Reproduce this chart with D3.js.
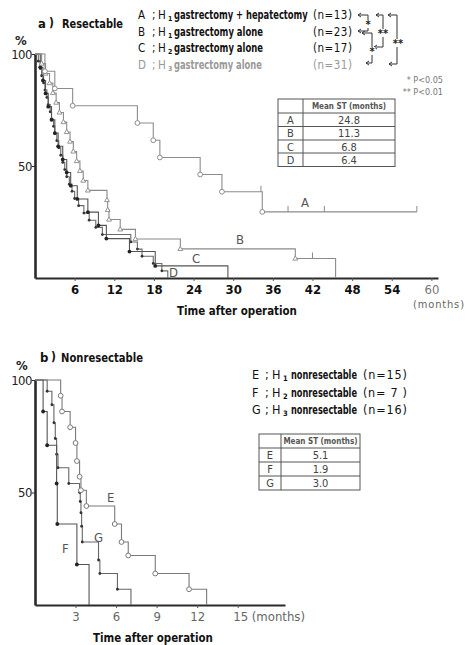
<!DOCTYPE html>
<html><head><meta charset="utf-8">
<script src="https://cdn.jsdelivr.net/npm/d3@7"></script>
<style>
body{margin:0;background:#fff;}
svg{display:block;}
text{font-family:"DejaVu Sans Condensed","DejaVu Sans",sans-serif;}
</style></head><body>
<svg id="c" width="466" height="645"></svg>
<script>
// ---------- data ----------
const topTicks=[6,12,18,24,30,36,42,48,54,60];
const botTicks=[3,6,9,12,15];
const yTicks=[50,100];
// panel a (months, % surviving)
const curveA=[[0,100],[1.5,92.3],[3,84.6],[5.7,76.9],[15.5,69.2],[17.9,61.5],[18.9,53.8],[25,46.2],[28.3,38.5],[34.4,29.5],[57.8,29.5]];
const censorA=[[34.2,38.5],[38.3,29.5],[43.8,29.5],[57.8,29.5]];
const curveB=[[0,100],[1,95.7],[1.6,91.3],[2.2,87],[2.7,82.6],[3.2,78.3],[3.7,73.9],[4.3,69.6],[4.8,65.2],[5.3,60.9],[5.8,56.5],[6.3,52.2],[6.8,47.8],[7.3,43.5],[8,39.1],[10.9,34.8],[11.0,30.4],[11.2,26.1],[12.9,21.7],[15.2,17.4],[22,13],[39.4,8.7],[45.5,0]];
const censorB=[[42,8.7]];
const curveC=[[0,100],[0.8,94.1],[1.2,88.2],[1.6,82.4],[2,76.5],[2.5,70.6],[3,64.7],[3.5,58.8],[4.2,52.9],[4.8,47.1],[5.4,41.2],[6.4,35.3],[8,29.4],[9.6,23.5],[10.8,17.6],[14.3,11.8],[18.2,5.4],[29.2,0]];
const curveD=[[0,100],[0.5,96.8],[0.8,93.5],[1.0,90.3],[1.3,87.1],[1.5,83.9],[1.8,80.6],[2.0,77.4],[2.3,74.2],[2.5,71],[2.8,67.7],[3.0,64.5],[3.3,61.3],[3.6,58.1],[3.9,54.8],[4.2,51.6],[4.5,48.4],[4.8,45.2],[5.2,41.9],[5.6,38.7],[6.0,35.5],[6.6,32.3],[7.4,29],[8.2,25.8],[9.2,22.6],[10.2,19.4],[14.5,16.1],[15.5,12.9],[16.2,9.7],[17.9,6.5],[19.2,3.2],[20.1,0]];
// panel b
const curveE=[[0,100],[1.9,93],[2.0,86],[2.6,79],[3.0,72],[3.1,64],[3.3,57],[3.4,51],[3.8,44],[5.9,36],[6.4,28],[6.9,22],[8.9,14],[11.4,7],[12.7,0]];
const curveF=[[0,100],[0.6,86],[0.9,71],[1.6,54],[1.65,36],[3.1,18],[4.0,0]];
const curveG=[[0,100],[0.9,95],[1.25,89],[1.4,81],[1.5,74],[1.6,67],[1.7,61],[2.5,54],[3.3,50],[3.35,46],[3.4,41],[3.45,35],[3.5,28],[4.7,20],[4.8,14],[6.1,7],[7.1,0]];
const legendA=[{k:"A",t:"gastrectomy + hepatectomy",h:"1",n:"(n=13)"},{k:"B",t:"gastrectomy alone",h:"1",n:"(n=23)"},{k:"C",t:"gastrectomy alone",h:"2",n:"(n=17)"},{k:"D",t:"gastrectomy alone",h:"3",n:"(n=31)"}];
const legendB=[{k:"E",t:"nonresectable",h:"1",n:"(n=15)"},{k:"F",t:"nonresectable",h:"2",n:"(n= 7 )"},{k:"G",t:"nonresectable",h:"3",n:"(n=16)"}];
const tableA=[["A","24.8"],["B","11.3"],["C","6.8"],["D","6.4"]];
const tableB=[["E","5.1"],["F","1.9"],["G","3.0"]];

// ---------- drawing ----------
const svg=d3.select("#c");
const axisCol="#2a2a2a";

function panel(cfg){
  const x=d3.scaleLinear().domain(cfg.xdom).range(cfg.xr);
  const y=d3.scaleLinear().domain([0,100]).range(cfg.yr);
  const g=svg.append("g");
  const xa=g.append("g").attr("transform",`translate(0,${cfg.yr[0]})`)
    .call(d3.axisBottom(x).tickValues(cfg.ticks).tickSize(3).tickSizeOuter(0).tickFormat(d3.format("d")));
  xa.select(".domain").attr("stroke",axisCol).attr("stroke-width",2.2);
  xa.selectAll(".tick line").attr("stroke","#555");
  xa.selectAll(".tick text").attr("font-size",cfg.tfs).attr("font-weight","bold").attr("fill","#111").attr("dy",cfg.tdy);
  const ya=g.append("g").attr("transform",`translate(${cfg.xr[0]},0)`)
    .call(d3.axisLeft(y).tickValues(yTicks).tickSize(3).tickSizeOuter(0));
  ya.select(".domain").attr("stroke",axisCol).attr("stroke-width",2.6);
  ya.selectAll(".tick line").attr("stroke",axisCol);
  ya.selectAll(".tick text").attr("font-size",13).attr("fill","#222").attr("x",-3).attr("letter-spacing",-0.5);
  const line=d3.line().x(d=>x(d[0])).y(d=>y(d[1])).curve(d3.curveStepAfter);
  cfg.curves.forEach(c=>{
    g.append("path").attr("d",line(c.data)).attr("fill","none").attr("stroke",c.col).attr("stroke-width",1.1);
    const pts=c.data.slice(1,-1);
    const mg=g.append("g");
    pts.forEach(p=>{
      const px=x(p[0]),py=y(p[1]);
      if(c.m==="o") mg.append("circle").attr("cx",px).attr("cy",py).attr("r",2.4).attr("fill","#fff").attr("stroke",c.col).attr("stroke-width",1);
      else if(c.m==="t") mg.append("path").attr("d",`M${px},${py-2.6}L${px+2.4},${py+1.6}L${px-2.4},${py+1.6}Z`).attr("fill","#fff").attr("stroke",c.col).attr("stroke-width",0.9);
      else if(c.m==="d") mg.append("circle").attr("cx",px).attr("cy",py).attr("r",1.9).attr("fill",c.mc||c.col);
      else mg.append("circle").attr("cx",px).attr("cy",py).attr("r",1.4).attr("fill",c.mc||c.col);
    });
    (c.cens||[]).forEach(p=>{
      g.append("line").attr("x1",x(p[0])).attr("x2",x(p[0])).attr("y1",y(p[1])).attr("y2",y(p[1])-6).attr("stroke",c.col).attr("stroke-width",1);
    });
  });
  return {x,y,g,xa};
}

const pa=panel({xdom:[0,61],xr:[35,438],yr:[278,54],ticks:topTicks,tfs:13,tdy:"0.75em",
  curves:[
    {data:curveD,col:"#6a6a6a",m:"s",mc:"#333"},
    {data:curveC,col:"#555",m:"d",mc:"#222"},
    {data:curveB,col:"#8a8a8a",m:"t",cens:censorB},
    {data:curveA,col:"#8c8c8c",m:"o",cens:censorA}
  ]});
pa.xa.selectAll(".tick text").filter(d=>d===60).attr("fill","#777").attr("font-weight","normal");

const pb=panel({xdom:[0,18.5],xr:[35,285],yr:[605,380],ticks:botTicks,tfs:13,tdy:"0.75em",
  curves:[
    {data:curveG,col:"#666",m:"s",mc:"#333"},
    {data:curveF,col:"#555",m:"d",mc:"#222"},
    {data:curveE,col:"#7a7a7a",m:"o"}
  ]});
pb.xa.selectAll(".tick text").attr("fill","#666").attr("font-weight","normal");
pb.xa.selectAll(".tick text").filter(d=>d===15).text("15 (months)").attr("text-anchor","start").attr("dx",-5);

function txt(x,y,s,o={}){
  return svg.append("text").attr("x",x).attr("y",y).text(s)
    .attr("font-size",o.fs||12).attr("font-weight",o.fw||"bold").attr("fill",o.fill||"#111")
    .attr("text-anchor",o.anchor||"start");
}
// fit text into width w: squeeze horizontally with a transform if too wide, stretch spacing if narrower
function fit(sel,w){
  const n=sel.node();const len=n.getComputedTextLength();
  if(len>w){
    const x=+sel.attr("x"),y=+sel.attr("y");
    sel.attr("x",0).attr("y",0).attr("transform",`translate(${x},${y}) scale(${(w/len).toFixed(4)},1)`);
  } else sel.attr("textLength",w).attr("lengthAdjust","spacing");
  return sel;
}
txt(38,28,"a",{fs:13});txt(49,27,")",{fs:12});
fit(txt(62,28,"Resectable",{fs:13}),61);
txt(15,45,"%",{fs:13,fill:"#222"});
txt(40,362,"b",{fs:13});txt(51,361,")",{fs:12});
fit(txt(61,362,"Nonresectable",{fs:13}),82);
txt(16,370,"%",{fs:13,fill:"#222"});
fit(txt(177,315,"Time after operation",{fs:13}),120);
fit(txt(413,308,"(months)",{fs:11,fw:"normal",fill:"#666"}),51);
fit(txt(93,642,"Time after operation",{fs:13}),120);

// curve letters
txt(301,207,"A",{fs:13,fw:"normal",fill:"#555"});
txt(236,244,"B",{fs:13,fw:"normal",fill:"#555"});
txt(192,263,"C",{fs:13,fw:"normal",fill:"#555"});
txt(169,277,"D",{fs:13,fw:"normal",fill:"#555"});
txt(107,502,"E",{fs:13,fw:"normal",fill:"#555"});
txt(94,542,"G",{fs:13,fw:"normal",fill:"#555"});
txt(62,553,"F",{fs:13,fw:"normal",fill:"#555"});

// legends: separate pieces
function legend(rows,ys,pos,fs,cols){
  rows.forEach((r,i)=>{
    const y=ys[i],c=cols[i];
    txt(pos.k,y,r.k,{fs:fs,fw:"normal",fill:c});
    txt(pos.semi,y,";",{fs:fs,fw:"normal",fill:c});
    txt(pos.h,y,"H",{fs:fs,fw:"normal",fill:c});
    txt(pos.sub,y+2,r.h,{fs:fs*0.6,fw:"bold",fill:c});
    fit(txt(pos.t,y,r.t,{fs:fs,fill:c}),pos.tend[i]-pos.t);
    fit(txt(pos.n0,y,r.n,{fs:fs,fw:"normal",fill:c}),pos.n1-pos.n0);
  });
}
legend(legendA,[19,36,52,69],{k:138,semi:152,h:158,sub:168,t:174,tend:[308,263,263,262],n0:313,n1:352},11.5,["#111","#111","#111","#999"]);
legend(legendB,[379,397,414],{k:252,semi:265,h:272,sub:283,t:291,tend:[357,357,357],n0:363,n1:407},12.5,["#111","#111","#111"]);

// significance brackets
const bk=svg.append("g").attr("fill","none").attr("stroke","#333").attr("stroke-width",1);
function bracket(xr,y1,y2,xl1,xl2){
  bk.append("path").attr("d",`M${xl1},${y1}H${xr}V${y2}H${xl2}`);
  bk.append("path").attr("d",`M${xl1+3},${y1-2}L${xl1},${y1}L${xl1+3},${y1+2}`);
  bk.append("path").attr("d",`M${xl2+3},${y2-2}L${xl2},${y2}L${xl2+3},${y2+2}`);
}
bracket(368,15,31,358,358);
bracket(372,33,63,362,366);
bracket(383,15,47,376,374);
bracket(397,15,64,388,389);
function star(x,y,s){svg.append("rect").attr("x",x-s.length*3.3).attr("y",y-4).attr("width",s.length*6.6).attr("height",8).attr("fill","#fff");
  txt(x,y+4,s,{fs:11,anchor:"middle",fill:"#222"});}
star(368,24,"*");star(372,51,"*");star(383,33,"**");star(398,43,"**");
txt(443,83,"* P<0.05",{fs:9,fw:"normal",fill:"#777",anchor:"end"});
txt(443,95,"** P<0.01",{fs:9,fw:"normal",fill:"#777",anchor:"end"});

// tables
function table(x0,x1,xd,ys,rows){
  const g=svg.append("g");
  g.append("rect").attr("x",x0).attr("y",ys[0]).attr("width",x1-x0).attr("height",ys[ys.length-1]-ys[0]).attr("fill","none").attr("stroke","#555").attr("stroke-width",1);
  ys.slice(1,-1).forEach(y=>g.append("line").attr("x1",x0).attr("x2",x1).attr("y1",y).attr("y2",y).attr("stroke","#555"));
  g.append("line").attr("x1",xd).attr("x2",xd).attr("y1",ys[0]).attr("y2",ys[ys.length-1]).attr("stroke","#555");
  const cx=(xd+x1)/2;
  g.append("text").attr("x",cx).attr("y",(ys[0]+ys[1])/2+3).attr("text-anchor","middle").attr("font-size",8).attr("font-weight","bold").attr("fill","#555").text("Mean ST (months)");
  rows.forEach((r,i)=>{
    const yc=(ys[i+1]+ys[i+2])/2+4;
    g.append("text").attr("x",(x0+xd)/2).attr("y",yc).attr("text-anchor","middle").attr("font-size",11).attr("fill","#444").text(r[0]);
    g.append("text").attr("x",cx).attr("y",yc).attr("text-anchor","middle").attr("font-size",11).attr("fill","#444").text(r[1]);
  });
}
table(278,395,303,[99,113,126.5,140,153,166.5],tableA);
table(259,360,281,[434,448,462,476,490],tableB);
</script></body></html>
